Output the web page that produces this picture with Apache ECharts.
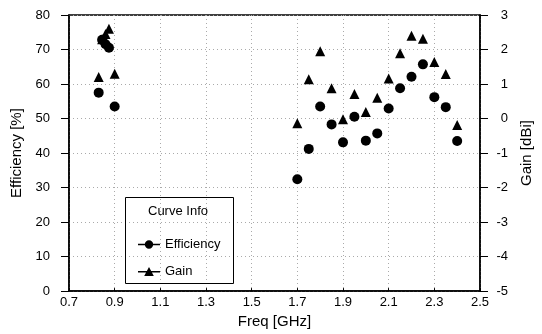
<!DOCTYPE html>
<html><head><meta charset="utf-8">
<script src="https://cdn.jsdelivr.net/npm/echarts@6/dist/echarts.min.js"></script>
<style>html,body{margin:0;padding:0;background:#fff}#c{width:542px;height:334px}</style>
</head><body><div id="c"></div>
<script>
const freqs = [0.83,0.845,0.86,0.875,0.9,1.7,1.75,1.8,1.85,1.9,1.95,2.0,2.05,2.1,2.15,2.2,2.25,2.3,2.35,2.4];
const efficiency = [57.5,72.8,71.5,70.5,53.5,32.4,41.2,53.5,48.3,43.1,50.5,43.6,45.7,52.9,58.8,62.1,65.7,56.2,53.3,43.5];
const gain = [1.2,2.3,2.45,2.6,1.3,-0.14,1.14,1.95,0.88,-0.02,0.71,0.19,0.6,1.16,1.89,2.4,2.31,1.64,1.29,-0.19];
const seriesNames = ['Efficiency','Gain'];
const legendTitle = 'Curve Info';

const FONT = '"Liberation Sans", Arial, sans-serif';
const chart = echarts.init(document.getElementById('c'), null, {renderer:'canvas'});
const gridLine = {show:true, lineStyle:{color:'#aaa', type:[1,3], width:1}};
const effIcon = 'path://M0,4.3H22V5.7H0Z M11,0.8A4.2,4.2 0 1 1 10.99,0.8Z';
const gainIcon = 'path://M0,4.3H22V5.7H0Z M11,0.3L15.8,9.3H6.2Z';
chart.setOption({
  animation:false,
  backgroundColor:'#fff',
  textStyle:{fontFamily:FONT, color:'#000'},
  grid:{left:69, right:62, top:15, bottom:39, containLabel:false, show:true, borderColor:'#000', borderWidth:1.5, backgroundColor:'rgba(0,0,0,0)'},
  xAxis:{
    type:'value', min:0.7, max:2.5, interval:0.2,
    name:'Freq [GHz]', nameLocation:'middle', nameGap:19,
    nameTextStyle:{fontSize:15, color:'#000', fontFamily:FONT},
    axisLine:{show:true, lineStyle:{color:'#000', width:1.5}},
    axisTick:{show:true, inside:true, length:3, lineStyle:{color:'#000'}},
    axisLabel:{fontSize:13, color:'#000', margin:5, fontFamily:FONT, formatter:v=>v.toFixed(1)},
    splitLine:gridLine
  },
  yAxis:[{
    type:'value', min:0, max:80, interval:10, position:'left',
    name:'Efficiency [%]', nameLocation:'middle', nameGap:39, nameRotate:90,
    nameTextStyle:{fontSize:15, color:'#000', fontFamily:FONT},
    axisLine:{show:true, lineStyle:{color:'#000', width:1.5}},
    axisTick:{show:true, length:8, lineStyle:{color:'#000'}},
    axisLabel:{fontSize:13, color:'#000', margin:19, fontFamily:FONT},
    splitLine:gridLine
  },{
    type:'value', min:-5, max:3, interval:1, position:'right',
    name:'Gain [dBi]', nameLocation:'middle', nameGap:34, nameRotate:90,
    nameTextStyle:{fontSize:15, color:'#000', fontFamily:FONT},
    axisLine:{show:true, lineStyle:{color:'#000', width:1.5}},
    axisTick:{show:true, length:8, lineStyle:{color:'#000'}},
    axisLabel:{fontSize:13, color:'#000', margin:28, align:'right', fontFamily:FONT},
    splitLine:{show:false}
  }],
  legend:{
    orient:'vertical', left:133, top:233, itemWidth:22, itemHeight:10, itemGap:14,
    textStyle:{fontSize:13, color:'#000', fontFamily:FONT},
    itemStyle:{opacity:1},
    data:[{name:seriesNames[0], icon:effIcon},{name:seriesNames[1], icon:gainIcon}],
    selectedMode:false
  },
  graphic:[
    {type:'rect', left:125, top:197, shape:{width:108, height:86}, style:{fill:'rgba(0,0,0,0)', stroke:'#000', lineWidth:1}, z:10},
    {type:'text', left:148, top:205, style:{text:legendTitle, fontSize:13, fill:'#000', fontFamily:FONT}, z:10}
  ],
  series:[{
    name:seriesNames[0], type:'scatter', yAxisIndex:0, symbol:'circle', symbolSize:10,
    itemStyle:{color:'#000', opacity:1},
    data:freqs.map((f,i)=>[f, efficiency[i]])
  },{
    name:seriesNames[1], type:'scatter', yAxisIndex:1, symbol:'triangle', symbolSize:[10,10],
    itemStyle:{color:'#000', opacity:1},
    data:freqs.map((f,i)=>[f, gain[i]])
  }]
});
</script></body></html>
